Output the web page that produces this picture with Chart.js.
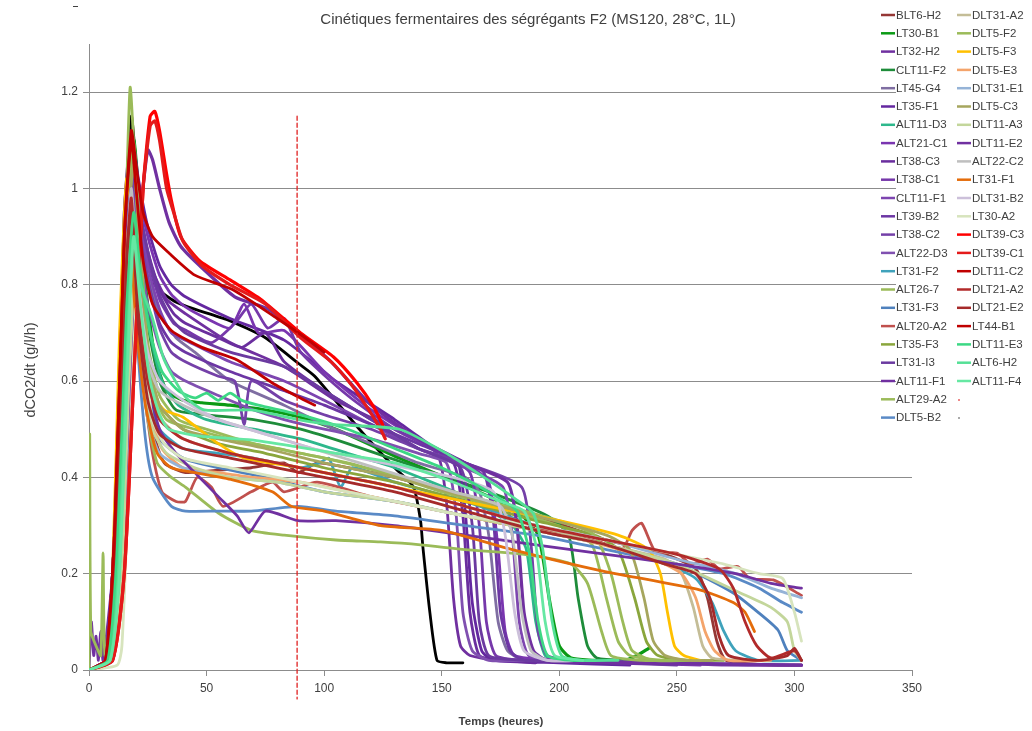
<!DOCTYPE html>
<html>
<head>
<meta charset="utf-8">
<script src="https://cdn.jsdelivr.net/npm/chart.js"></script>
<style>
  html, body { margin: 0; padding: 0; background: #fff; }
  #wrap { width: 1032px; height: 731px; position: relative; }
</style>
</head>
<body>
<div id="wrap"><canvas id="chart" width="1032" height="731"></canvas></div>
<script>
// ================== AXES ==================
const ticksX = [0, 50, 100, 150, 200, 250, 300, 350];
const ticksY = [0, 0.2, 0.4, 0.6, 0.8, 1, 1.2];
const cutLine = [[88.5, 1.15], [88.5, -0.06]];

// ================== SERIES (temps h, dCO2/dt) ==================
const blt6H2 = [[0,0],[8,0.02],[12,0.2],[15,0.7],[18,1.0],[20,0.85],[23,0.65],[27,0.5],[32,0.43],[41,0.41],[55,0.415],[69,0.42],[83,0.43],[89,0.41],[97,0.43],[105,0.425],[130,0.4],[160,0.36],[190,0.32],[220,0.27],[245,0.24],[258,0.21],[263,0.15],[267,0.06],[271,0.02],[290,0.01],[303,0.01]];
const lt30B1 = [[0,0],[8,0.02],[12,0.25],[16,0.8],[19,1.1],[21,1.0],[24,0.8],[28,0.65],[33,0.58],[40,0.56],[48,0.555],[60,0.55],[75,0.54],[89,0.526],[105,0.5],[132,0.44],[161,0.38],[182,0.33],[191,0.28],[196,0.14],[200,0.05],[205,0.025],[215,0.02],[225,0.015],[233,0.03],[238,0.045]];
const lt32H2 = [[0,0],[1,0.1],[2,0.03],[3,0.07],[4,0.02],[5,0.08],[6,0.02],[10,0.2],[14,0.8],[17,1.05],[19,1.0],[22,0.92],[27,0.83],[33,0.77],[41,0.74],[60,0.68],[83,0.63],[105,0.56],[130,0.5],[148,0.45],[152,0.35],[155,0.15],[158,0.05],[162,0.03],[175,0.02],[185,0.02]];
const clt11F2 = [[0,0],[8,0.02],[12,0.25],[16,0.85],[19,1.08],[22,0.9],[25,0.72],[30,0.6],[37,0.54],[50,0.53],[70,0.52],[90,0.5],[110,0.47],[140,0.42],[170,0.37],[195,0.32],[204,0.28],[208,0.15],[212,0.05],[216,0.025],[230,0.02],[240,0.02]];
const lt45G4 = [[0,0],[8,0.02],[12,0.3],[16,0.9],[18,1.05],[21,0.93],[25,0.82],[30,0.74],[37,0.69],[45,0.66],[60,0.6],[83,0.55],[100,0.51],[120,0.47],[140,0.43],[160,0.4],[166,0.37],[170,0.28],[174,0.1],[178,0.04],[185,0.02],[200,0.02]];
const lt35F1 = [[0,0],[7,0.02],[11,0.3],[15,0.95],[18,1.12],[21,1.02],[25,0.92],[30,0.84],[35,0.8],[41,0.775],[60,0.73],[83,0.685],[105,0.6],[130,0.52],[150,0.45],[157,0.43],[160,0.33],[163,0.14],[167,0.04],[172,0.02],[200,0.015],[230,0.01]];
const alt11D3 = [[0,0],[8,0.02],[12,0.25],[16,0.8],[19,0.98],[22,0.85],[26,0.7],[31,0.6],[38,0.55],[50,0.52],[70,0.5],[90,0.48],[110,0.45],[130,0.42],[160,0.36],[180,0.3],[186,0.25],[190,0.1],[194,0.03],[200,0.02],[215,0.02]];
const alt21C1 = [[0,0],[7,0.02],[11,0.3],[15,0.9],[18,1.1],[21,1.0],[25,0.9],[30,0.82],[35,0.78],[41,0.754],[50,0.73],[60,0.71],[66,0.76],[72,0.7],[83,0.705],[100,0.62],[120,0.54],[140,0.48],[160,0.43],[170,0.39],[174,0.25],[177,0.08],[181,0.03],[200,0.02],[230,0.015],[260,0.01]];
const lt38C3 = [[0,0],[7,0.02],[11,0.3],[15,0.92],[18,1.08],[21,0.97],[25,0.87],[30,0.79],[36,0.74],[41,0.72],[55,0.69],[65,0.67],[75,0.7],[83,0.64],[100,0.58],[120,0.52],[140,0.46],[155,0.43],[159,0.32],[162,0.12],[166,0.03],[175,0.02],[190,0.015]];
const lt38C1 = [[0,0],[7,0.02],[11,0.3],[15,0.95],[18,1.1],[21,0.98],[25,0.86],[30,0.77],[36,0.72],[41,0.706],[52,0.68],[62,0.72],[69,0.76],[76,0.71],[83,0.73],[90,0.66],[110,0.57],[130,0.5],[150,0.45],[162,0.41],[166,0.3],[169,0.1],[173,0.03],[185,0.02],[200,0.02]];
const clt11F1 = [[0,0],[7,0.02],[11,0.3],[15,0.9],[18,1.05],[21,0.94],[25,0.84],[30,0.75],[35,0.7],[41,0.685],[60,0.64],[83,0.6],[100,0.56],[120,0.51],[140,0.46],[160,0.42],[176,0.38],[180,0.28],[183,0.1],[187,0.03],[200,0.02],[240,0.015],[270,0.01],[303,0.01]];
const lt39B2 = [[0,0],[7,0.02],[11,0.3],[15,0.85],[18,1.02],[21,0.92],[25,0.81],[30,0.72],[35,0.68],[41,0.66],[60,0.62],[83,0.58],[100,0.55],[120,0.51],[140,0.47],[160,0.43],[168,0.41],[172,0.31],[175,0.12],[179,0.04],[185,0.02],[200,0.02]];
const lt38C2 = [[0,0],[7,0.02],[11,0.3],[15,0.88],[18,1.05],[21,0.93],[25,0.81],[30,0.71],[35,0.66],[41,0.64],[55,0.61],[62,0.6],[66,0.51],[69,0.6],[83,0.56],[100,0.53],[120,0.5],[140,0.46],[160,0.43],[184,0.38],[188,0.26],[191,0.08],[195,0.03],[210,0.02],[250,0.015],[303,0.01]];
const alt22D3 = [[0,0],[7,0.02],[11,0.3],[15,0.85],[18,1.0],[21,0.88],[25,0.76],[30,0.67],[35,0.62],[41,0.6],[55,0.57],[70,0.54],[83,0.52],[100,0.5],[120,0.48],[140,0.45],[152,0.43],[156,0.33],[159,0.12],[163,0.04],[170,0.02],[185,0.02]];
const lt31F2 = [[0,0],[8,0.02],[12,0.25],[16,0.8],[18,0.95],[21,0.75],[25,0.58],[30,0.5],[40,0.46],[55,0.45],[70,0.44],[90,0.42],[98,0.43],[102,0.44],[107,0.38],[112,0.42],[130,0.39],[160,0.35],[190,0.3],[220,0.26],[245,0.22],[258,0.19],[265,0.14],[270,0.08],[275,0.04],[285,0.02],[303,0.02]];
const alt26_7 = [[0,0],[8,0.02],[12,0.3],[15.5,0.9],[17.5,1.21],[20,1.0],[23,0.75],[27,0.58],[33,0.52],[45,0.5],[60,0.48],[80,0.46],[100,0.44],[125,0.41],[150,0.37],[180,0.33],[205,0.29],[214,0.26],[220,0.15],[225,0.06],[230,0.03],[245,0.02],[260,0.02]];
const lt31F3 = [[0,0],[8,0.02],[12,0.25],[16,0.8],[18,0.9],[21,0.7],[25,0.55],[30,0.48],[40,0.44],[55,0.42],[75,0.4],[100,0.37],[130,0.35],[160,0.32],[190,0.29],[220,0.26],[250,0.22],[274,0.16],[285,0.118],[293,0.083],[297,0.04],[303,0.02]];
const alt20A2 = [[0,0],[8,0.02],[12,0.3],[16,0.85],[18,1.0],[20,0.8],[23,0.6],[27,0.45],[31,0.37],[37,0.35],[41,0.35],[46,0.4],[52,0.38],[57,0.34],[69,0.37],[78,0.39],[83,0.37],[97,0.39],[120,0.36],[150,0.33],[180,0.3],[200,0.285],[217,0.266],[227,0.253],[231,0.29],[235,0.305],[241,0.245],[250,0.243],[256,0.22],[263,0.23],[268,0.21],[276,0.215],[281,0.19],[291,0.187],[303,0.155]];
const lt35F3 = [[0,0],[8,0.02],[12,0.3],[16,0.9],[19,1.05],[22,0.85],[25,0.65],[30,0.55],[40,0.5],[55,0.47],[75,0.45],[100,0.42],[130,0.39],[160,0.35],[190,0.31],[215,0.28],[225,0.25],[232,0.15],[237,0.06],[242,0.03],[255,0.02],[270,0.02]];
const lt31I3 = [[0,0],[7,0.02],[11,0.3],[15,0.9],[18,1.08],[21,0.97],[25,0.87],[30,0.78],[35,0.73],[41,0.7],[60,0.66],[83,0.63],[100,0.58],[120,0.52],[140,0.46],[158,0.42],[163,0.3],[166,0.1],[170,0.03],[185,0.02],[220,0.015],[250,0.01]];
const alt11F1 = [[0,0],[10,0.02],[14,0.2],[18,0.6],[22,0.95],[25,1.08],[27,1.06],[30,1.0],[34,0.93],[39,0.88],[47,0.84],[62,0.775],[76,0.75],[89,0.7],[103,0.64],[120,0.55],[140,0.48],[160,0.43],[178,0.39],[182,0.3],[185,0.12],[189,0.04],[195,0.02],[230,0.015],[303,0.01]];
const alt29A2 = [[0,0],[0.3,0.49],[0.8,0.08],[3,0.05],[5,0.03],[6,0.243],[6.8,0.03],[10,0.03],[13,0.3],[16,0.8],[18,0.95],[21,0.7],[25,0.52],[29,0.43],[35,0.4],[41,0.38],[55,0.326],[69,0.29],[83,0.28],[105,0.27],[124,0.266],[141,0.26],[160,0.25],[185,0.24],[205,0.22],[212,0.18],[218,0.08],[222,0.03],[235,0.02],[250,0.02]];
const dlt5B2 = [[0,0],[8,0.02],[12,0.25],[16,0.75],[18,0.88],[21,0.65],[24,0.48],[27,0.4],[35,0.34],[41,0.33],[55,0.33],[69,0.33],[89,0.34],[105,0.33],[130,0.32],[160,0.3],[190,0.28],[220,0.25],[250,0.22],[270,0.2],[285,0.17],[295,0.14],[303,0.12]];
const dlt31A2 = [[0,0],[9,0.02],[13,0.3],[17,0.85],[19,0.95],[22,0.75],[26,0.6],[31,0.52],[40,0.48],[60,0.45],[80,0.43],[100,0.41],[130,0.38],[160,0.34],[190,0.3],[220,0.26],[245,0.23],[252,0.2],[257,0.13],[261,0.05],[265,0.025],[280,0.02]];
const dlt5F2 = [[0,0],[8,0.02],[12,0.3],[16,0.9],[19,1.1],[22,0.88],[25,0.68],[30,0.57],[38,0.52],[50,0.5],[70,0.47],[90,0.45],[110,0.43],[140,0.39],[170,0.35],[200,0.31],[215,0.28],[222,0.2],[227,0.1],[231,0.04],[240,0.02],[255,0.02]];
const dlt5F3 = [[0,0],[7,0.02],[10,0.2],[13,0.7],[16,1.02],[19,0.9],[22,0.7],[26,0.58],[32,0.54],[40,0.525],[55,0.47],[66,0.44],[90,0.42],[110,0.4],[140,0.37],[170,0.34],[200,0.31],[225,0.28],[238,0.25],[243,0.2],[246,0.12],[249,0.05],[253,0.03],[260,0.02]];
const dlt5E3 = [[0,0],[8,0.02],[12,0.3],[16,0.85],[18,0.95],[21,0.72],[25,0.55],[31,0.46],[40,0.42],[55,0.41],[70,0.4],[90,0.39],[120,0.36],[150,0.33],[180,0.3],[210,0.27],[240,0.23],[252,0.2],[258,0.15],[262,0.08],[266,0.04],[272,0.02],[290,0.02]];
const dlt31E1 = [[0,0],[8,0.02],[12,0.25],[16,0.8],[18,0.9],[21,0.68],[25,0.52],[30,0.45],[40,0.42],[60,0.4],[80,0.39],[100,0.37],[130,0.35],[160,0.32],[190,0.3],[220,0.27],[250,0.23],[275,0.2],[290,0.17],[303,0.15]];
const dlt5C3 = [[0,0],[8,0.02],[12,0.3],[16,0.88],[19,1.05],[22,0.85],[25,0.65],[30,0.55],[40,0.5],[55,0.48],[75,0.46],[100,0.43],[130,0.4],[160,0.36],[190,0.32],[220,0.28],[230,0.25],[236,0.15],[240,0.06],[245,0.03],[255,0.02],[265,0.02]];
const dlt11A3 = [[0,0],[10,0.02],[14,0.2],[17,0.6],[20,0.85],[23,0.65],[27,0.5],[33,0.45],[45,0.42],[60,0.4],[80,0.39],[100,0.37],[130,0.35],[160,0.32],[190,0.29],[220,0.26],[250,0.22],[277,0.16],[290,0.13],[297,0.1],[300,0.04],[303,0.02]];
const dlt11E2 = [[0,0],[7,0.02],[11,0.3],[15,0.85],[18,1.0],[21,0.8],[25,0.6],[30,0.5],[37,0.45],[45,0.41],[55,0.36],[63,0.32],[68,0.285],[75,0.33],[89,0.31],[105,0.31],[130,0.3],[160,0.28],[190,0.26],[220,0.24],[250,0.22],[275,0.2],[290,0.18],[303,0.17]];
const alt22C2 = [[0,0],[8,0.02],[12,0.3],[16,0.85],[18,1.0],[21,0.8],[25,0.64],[30,0.58],[40,0.55],[55,0.52],[75,0.49],[95,0.46],[115,0.43],[135,0.4],[155,0.37],[175,0.34],[180,0.28],[184,0.12],[188,0.04],[195,0.02],[210,0.02]];
const lt31F1 = [[0,0],[8,0.02],[12,0.25],[15,0.8],[17,0.92],[20,0.72],[24,0.55],[29,0.45],[35,0.42],[45,0.41],[61,0.395],[78,0.37],[86,0.34],[100,0.33],[124,0.3],[150,0.29],[180,0.25],[217,0.207],[260,0.166],[274,0.14],[279,0.12],[283,0.08]];
const dlt31B2 = [[0,0],[8,0.02],[12,0.3],[16,0.85],[18,0.98],[21,0.8],[25,0.66],[30,0.6],[40,0.56],[55,0.52],[75,0.49],[95,0.46],[115,0.44],[135,0.42],[155,0.4],[172,0.37],[177,0.28],[181,0.12],[185,0.04],[195,0.02],[210,0.02]];
const lt30A2 = [[0,0],[12,0.01],[14,0.05],[17,0.4],[20,0.75],[23,0.68],[27,0.52],[32,0.47],[40,0.44],[60,0.42],[80,0.4],[100,0.38],[130,0.35],[160,0.32],[190,0.3],[220,0.27],[250,0.24],[270,0.22],[285,0.2],[295,0.19],[300,0.12],[303,0.06]];
const dlt39C3 = [[0,0],[10,0.02],[15,0.2],[19,0.6],[23,1.0],[26,1.15],[28,1.16],[30,1.12],[33,1.03],[35,0.976],[39,0.9],[47,0.85],[60,0.81],[73,0.77],[90,0.7],[104,0.65],[114,0.596],[121,0.547],[125,0.508]];
const dlt39C1 = [[0,0],[10,0.02],[15,0.2],[19,0.6],[23,1.0],[26,1.13],[28,1.14],[30,1.1],[33,1.0],[36,0.95],[40,0.89],[48,0.84],[60,0.8],[75,0.76],[90,0.69],[103,0.64],[112,0.59],[119,0.54],[124,0.5],[126,0.48]];
const dlt11C2 = [[0,0],[7,0.02],[11,0.3],[15,0.9],[18,1.12],[20,1.05],[23,0.95],[27,0.9],[34,0.866],[45,0.82],[61,0.79],[80,0.73],[92,0.69],[100,0.66]];
const dlt21A2 = [[0,0],[8,0.02],[12,0.3],[16,0.85],[18,0.98],[21,0.75],[25,0.6],[30,0.52],[40,0.48],[60,0.45],[80,0.43],[100,0.41],[130,0.38],[160,0.34],[190,0.3],[220,0.27],[250,0.24],[268,0.21],[274,0.17],[279,0.1],[284,0.05],[290,0.025],[300,0.04],[303,0.02]];
const dlt21E2 = [[0,0],[8,0.02],[12,0.3],[16,0.85],[18,0.95],[21,0.72],[25,0.56],[30,0.49],[40,0.46],[60,0.44],[80,0.42],[100,0.4],[130,0.37],[160,0.33],[190,0.29],[220,0.26],[245,0.22],[258,0.2],[264,0.15],[268,0.07],[272,0.03],[285,0.02],[297,0.03],[300,0.045],[303,0.02]];
const lt44B1 = [[0,0],[7,0.02],[11,0.3],[15,0.9],[18,1.1],[20,1.0],[23,0.85],[27,0.76],[35,0.705],[48,0.67],[63,0.644],[78,0.596],[89,0.567],[96,0.55]];
const dlt11E3 = [[0,0],[8,0.02],[12,0.25],[16,0.75],[19,0.95],[22,0.82],[26,0.7],[31,0.62],[38,0.58],[45,0.565],[50,0.575],[55,0.56],[60,0.575],[65,0.56],[72,0.55],[90,0.53],[110,0.5],[130,0.46],[150,0.42],[170,0.37],[182,0.33],[187,0.25],[191,0.1],[195,0.03],[205,0.02],[215,0.02]];
const alt6H2 = [[0,0],[9,0.02],[13,0.25],[17,0.75],[19,0.9],[22,0.8],[27,0.73],[32,0.644],[41,0.567],[49,0.54],[69,0.54],[89,0.52],[103,0.51],[132,0.5],[153,0.447],[168,0.4],[182,0.353],[189,0.325],[193,0.25],[197,0.1],[201,0.03],[210,0.02],[225,0.02]];
const alt11F4 = [[0,0],[9,0.02],[13,0.2],[17,0.7],[19,0.9],[22,0.75],[26,0.6],[30,0.53],[34,0.5],[48,0.485],[69,0.478],[89,0.463],[105,0.45],[130,0.43],[155,0.39],[175,0.35],[185,0.33],[190,0.26],[194,0.1],[198,0.03],[210,0.02]];
const unnamedBlack = [[0,0],[7,0.02],[11,0.3],[15,0.9],[18,1.15],[20,1.05],[23,0.9],[28,0.8],[35,0.77],[42,0.754],[59,0.727],[75,0.69],[89,0.637],[96,0.61],[115,0.5],[130,0.42],[138,0.38],[141,0.31],[142,0.255],[145,0.118],[148,0.02],[152,0.015],[159,0.015]];

// ================== STYLES ==================
const series = [
  ['BLT6-H2', blt6H2, '#953735'], ['LT30-B1', lt30B1, '#0a9a14'], ['LT32-H2', lt32H2, '#7030a0'],
  ['CLT11-F2', clt11F2, '#1e8c3a'], ['LT45-G4', lt45G4, '#7f6ea2'], ['LT35-F1', lt35F1, '#6428a0'],
  ['ALT11-D3', alt11D3, '#2eb88c'], ['ALT21-C1', alt21C1, '#7a35b0'], ['LT38-C3', lt38C3, '#6a2e9e'],
  ['LT38-C1', lt38C1, '#7638aa'], ['CLT11-F1', clt11F1, '#7d45b0'], ['LT39-B2', lt39B2, '#6c36a4'],
  ['LT38-C2', lt38C2, '#7440a8'], ['ALT22-D3', alt22D3, '#8050b0'], ['LT31-F2', lt31F2, '#3fa2bb'],
  ['ALT26-7', alt26_7, '#9bbb59'], ['LT31-F3', lt31F3, '#4f81bd'], ['ALT20-A2', alt20A2, '#c0504d'],
  ['LT35-F3', lt35F3, '#8aa63c'], ['LT31-I3', lt31I3, '#6b3aa0'], ['ALT11-F1', alt11F1, '#7030a0'],
  ['ALT29-A2', alt29A2, '#9bbb59'], ['DLT5-B2', dlt5B2, '#5a8ac6'],
  ['DLT31-A2', dlt31A2, '#c4bd97'], ['DLT5-F2', dlt5F2, '#9bbb59'], ['DLT5-F3', dlt5F3, '#ffc000'],
  ['DLT5-E3', dlt5E3, '#f4a46b'], ['DLT31-E1', dlt31E1, '#95b3d7'], ['DLT5-C3', dlt5C3, '#a6a65e'],
  ['DLT11-A3', dlt11A3, '#c3d69b'], ['DLT11-E2', dlt11E2, '#7030a0'], ['ALT22-C2', alt22C2, '#bfbfbf'],
  ['LT31-F1', lt31F1, '#e46c0a'], ['DLT31-B2', dlt31B2, '#ccc0da'], ['LT30-A2', lt30A2, '#d7e4bd'],
  ['DLT39-C3', dlt39C3, '#ff0000'], ['DLT39-C1', dlt39C1, '#e41a1a'], ['DLT11-C2', dlt11C2, '#c00000'],
  ['DLT21-A2', dlt21A2, '#b22a2a'], ['DLT21-E2', dlt21E2, '#a52a2a'], ['LT44-B1', lt44B1, '#c00000'],
  ['DLT11-E3', dlt11E3, '#3cd884'], ['ALT6-H2', alt6H2, '#55e096'], ['ALT11-F4', alt11F4, '#66e8a3']
];
const thick = ['LT30-B1', 'ALT11-F1', 'DLT39-C3', 'DLT39-C1'];

const datasets = series.map(([name, data, color], i) => ({
  label: name, data, borderColor: color,
  borderWidth: thick.includes(name) ? 3.2 : 2.8,
  legendCol: i < 23 ? 0 : 1, legendRow: i < 23 ? i : i - 23
}));
datasets.forEach((d, i) => { d.order = datasets.length + 2 - i; });
// black run drawn first (under everything), cut marker on top
datasets.push({ label: '', data: unnamedBlack, borderColor: '#000', borderWidth: 2.8, order: 999 });
datasets.push({ label: '', data: cutLine, borderColor: '#e02020', borderWidth: 1.3, borderDash: [4, 3], clip: false, tension: 0, order: 0 });

// ================== PLUGINS ==================
const txt = '#404040';
const decor = {
  id: 'decor',
  afterDraw(chart) {
    const ctx = chart.ctx;
    ctx.save();
    // title
    ctx.fillStyle = txt;
    ctx.textAlign = 'center'; ctx.textBaseline = 'middle';
    ctx.font = '15px "Liberation Sans", Arial, sans-serif';
    ctx.fillText('Cinétiques fermentaires des ségrégants F2 (MS120, 28°C, 1L)', 528, 20);
    ctx.font = 'bold 11.5px "Liberation Sans", Arial, sans-serif';
    ctx.fillText('Temps (heures)', 501, 722);
    ctx.save();
    ctx.translate(31, 370); ctx.rotate(-Math.PI / 2);
    ctx.font = '14.5px "Liberation Sans", Arial, sans-serif';
    ctx.fillText('dCO2/dt (g/l/h)', 0, 0);
    ctx.restore();
    ctx.fillRect(73, 6, 5, 1);
    // legend
    ctx.fillStyle = '#fff';
    ctx.fillRect(896, 0, 136, 430);
    ctx.font = '11.5px "Liberation Sans", Arial, sans-serif';
    ctx.textAlign = 'left';
    chart.data.datasets.forEach(ds => {
      if (ds.legendCol == null) return;
      const x = ds.legendCol ? 957 : 881;
      const y = 15 + ds.legendRow * 18.3;
      ctx.strokeStyle = ds.borderColor; ctx.lineWidth = 2.5;
      ctx.beginPath(); ctx.moveTo(x, y); ctx.lineTo(x + 14, y); ctx.stroke();
      ctx.fillStyle = txt;
      ctx.fillText(ds.label, x + 15, y + 0.5);
    });
    ctx.fillStyle = '#e88'; ctx.fillRect(958, 399, 2, 2);
    ctx.fillStyle = '#aaa'; ctx.fillRect(958, 417, 2, 2);
    ctx.restore();
  }
};

// ================== CHART ==================
const gridCol = '#8c8c8c';
new Chart(document.getElementById('chart'), {
  type: 'line',
  data: { datasets },
  options: {
    responsive: false, animation: false, devicePixelRatio: 1,
    layout: { padding: { top: 44, right: 120, left: 0, bottom: 0 } },
    elements: {
      point: { radius: 0 },
      line: { tension: 0.2, fill: false, borderCapStyle: 'round', borderJoinStyle: 'round' }
    },
    plugins: { legend: { display: false }, tooltip: { enabled: false }, title: { display: false } },
    scales: {
      x: {
        type: 'linear', min: 0, max: 350,
        afterFit: s => { s.height = 61; },
        afterBuildTicks: s => { s.ticks = ticksX.map(v => ({ value: v })); },
        grid: { drawOnChartArea: false, color: gridCol, tickLength: 6 },
        border: { color: gridCol },
        ticks: { color: txt, padding: 5, maxRotation: 0, font: { size: 12, family: '"Liberation Sans", Arial, sans-serif' } }
      },
      y: {
        min: 0, max: 1.3,
        afterFit: s => { s.width = 89; },
        afterBuildTicks: s => { s.ticks = ticksY.map(v => ({ value: v })); },
        grid: { color: gridCol, tickLength: 6 },
        border: { color: gridCol },
        ticks: { color: txt, padding: 5, callback: v => String(+v.toFixed(1)), font: { size: 12, family: '"Liberation Sans", Arial, sans-serif' } }
      }
    }
  },
  plugins: [decor]
});
</script>
</body>
</html>
